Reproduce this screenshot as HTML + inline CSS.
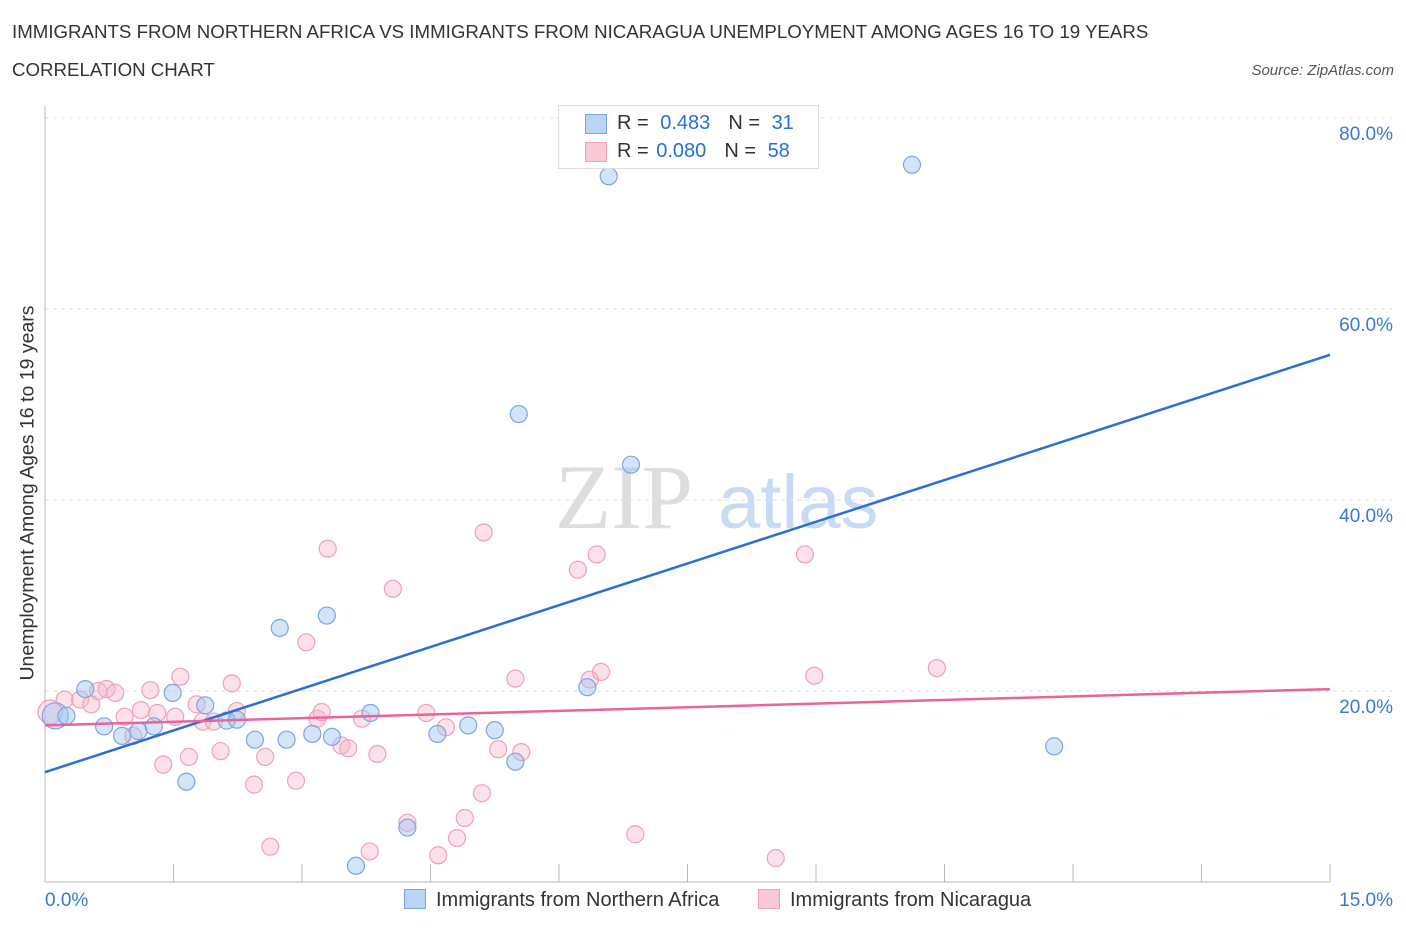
<!DOCTYPE html>
<html><head><meta charset="utf-8"><style>
body{margin:0;background:#fff;font-family:"Liberation Sans",sans-serif;}
#wrap{position:relative;width:1406px;height:930px;overflow:hidden;}
.t{position:absolute;white-space:nowrap;}
</style></head><body>
<div id="wrap">
<div class="t" style="left:12px;top:21px;font-size:18.7px;color:#333;">IMMIGRANTS FROM NORTHERN AFRICA VS IMMIGRANTS FROM NICARAGUA UNEMPLOYMENT AMONG AGES 16 TO 19 YEARS</div>
<div class="t" style="left:12px;top:59px;font-size:18.7px;color:#333;">CORRELATION CHART</div>
<div class="t" style="right:12px;top:62px;font-size:15px;color:#555;font-style:italic;">Source: ZipAtlas.com</div>
<svg id="svg" width="1406" height="930" style="position:absolute;left:0;top:0"></svg>
</div>
<script>
const yTicks=[20,40,60,80];
const yTickLabels=["20.0%","40.0%","60.0%","80.0%"];
const blueX=[0.12,0.25,0.47,0.69,0.90,1.09,1.27,1.49,1.65,1.87,2.12,2.24,2.45,2.74,2.82,3.12,3.29,3.35,3.63,3.80,4.23,4.58,4.94,5.25,5.49,5.53,6.33,6.58,6.84,10.12,11.78];
const blueY=[17.4,17.4,20.2,16.3,15.3,15.8,16.3,19.8,10.5,18.5,16.9,17.0,14.9,26.6,14.9,15.5,27.9,15.2,1.7,17.7,5.7,15.5,16.4,15.9,12.6,49.0,20.4,73.9,43.7,75.1,14.2];
const pinkX=[0.06,0.23,0.41,0.54,0.62,0.72,0.82,0.93,1.03,1.12,1.23,1.31,1.38,1.52,1.58,1.68,1.77,1.84,1.97,2.05,2.18,2.24,2.44,2.57,2.63,2.93,3.05,3.18,3.23,3.30,3.46,3.54,3.70,3.79,3.88,4.06,4.23,4.45,4.59,4.68,4.81,4.90,5.10,5.12,5.29,5.49,5.56,6.22,6.36,6.44,6.49,6.89,8.53,8.87,8.98,10.41];
const pinkY=[17.8,19.1,19.1,18.6,20.0,20.2,19.8,17.3,15.3,18.0,20.1,17.7,12.3,17.3,21.5,13.1,18.6,16.8,16.8,13.7,20.8,17.9,10.2,13.1,3.7,10.6,25.1,17.1,17.8,34.9,14.3,14.0,17.1,3.2,13.4,30.7,6.2,17.7,2.8,16.2,4.6,6.7,9.3,36.6,13.9,21.3,13.6,32.7,21.2,34.3,22.0,5.0,2.5,34.3,21.6,22.4];
const blueTrend=[11.5,55.2];
const pinkTrend=[16.4,20.2];
const X=v=>45+v*85.67, Y=v=>882-v*9.55;
const svg=document.getElementById('svg');
const NS='http://www.w3.org/2000/svg';
function mk(tag,attrs,name){const e=document.createElementNS(NS,tag);for(const k in attrs)e.setAttribute(k,attrs[k]);


svg.appendChild(e);return e;}
yTicks.forEach((v,i)=>{
 mk('line',{x1:45,x2:1392,y1:Y(v),y2:Y(v),stroke:'#ddd','stroke-dasharray':'4,4'},'gridline');
 const t=mk('text',{x:1393,y:Y(v)+22,'text-anchor':'end','font-size':19,fill:'#3a78d8','font-family':'Liberation Sans'},'y-tick-label');t.textContent=yTickLabels[i];
});
mk('line',{x1:45,x2:45,y1:105,y2:882,stroke:'#bbb'},'y-axis');
mk('line',{x1:45,x2:1330,y1:882,y2:882,stroke:'#bbb'},'x-axis');
for(let i=1;i<=10;i++){const x=45+i*128.5;mk('line',{x1:x,x2:x,y1:864,y2:882,stroke:'#bbb'},'x-tick');}
const wm=mk('text',{x:555,y:528,'font-size':92,fill:'#ddd','font-family':'Liberation Serif'},'watermark-zip');wm.textContent='ZIP';
const wm2=mk('text',{x:718,y:528,'font-size':76,fill:'#c9dbf2','font-family':'Liberation Sans'},'watermark-atlas');wm2.textContent='atlas';
pinkX.forEach((v,i)=>mk('circle',{cx:X(v),cy:Y(pinkY[i]),r:i==0?12:8.5,fill:'rgba(248,180,200,0.4)',stroke:'#f0a0b8','stroke-width':1.2},'nicaragua-point'));
blueX.forEach((v,i)=>mk('circle',{cx:X(v),cy:Y(blueY[i]),r:i==0?13:8.5,fill:'rgba(160,196,240,0.45)',stroke:'#7aa7e0','stroke-width':1.2},'northern-africa-point'));
mk('line',{x1:X(0),x2:X(15),y1:Y(blueTrend[0]),y2:Y(blueTrend[1]),stroke:'#2a6fd6','stroke-width':2.5},'northern-africa-trendline');
mk('line',{x1:X(0),x2:X(15),y1:Y(pinkTrend[0]),y2:Y(pinkTrend[1]),stroke:'#e8649a','stroke-width':2.5},'nicaragua-trendline');
</script>
<div class="t" style="left:28px;top:493px;font-size:19.5px;color:#333;transform:translate(-50%,-50%) rotate(-90deg);">Unemployment Among Ages 16 to 19 years</div>
<div class="t" style="left:45px;top:890px;font-size:19px;color:#3a78d8;">0.0%</div>
<div class="t" style="right:13px;top:890px;font-size:19px;color:#3a78d8;">15.0%</div>
<div style="position:absolute;left:558px;top:105px;width:259px;height:62px;border:1px solid #ddd;background:#fff;font-size:20px;color:#333;">
 <div style="position:absolute;left:26px;top:8px;width:20px;height:18px;background:#bcd4f4;border:1px solid #7aa7e0;"></div>
 <div class="t" style="left:58px;top:6px;">R = <span style="color:#2a6fd6;margin-left:6px">0.483</span><span style="margin-left:18px">N = </span><span style="color:#2a6fd6;margin-left:6px">31</span></div>
 <div style="position:absolute;left:26px;top:36px;width:20px;height:18px;background:#f9c8d6;border:1px solid #f0a0b8;"></div>
 <div class="t" style="left:58px;top:34px;">R = <span style="color:#2a6fd6;margin-left:2px">0.080</span><span style="margin-left:18px">N = </span><span style="color:#2a6fd6;margin-left:6px">58</span></div>
</div>
<div style="position:absolute;left:404px;top:889px;font-size:20px;color:#333;">
 <span style="display:inline-block;width:20px;height:18px;background:#bcd4f4;border:1px solid #7aa7e0;vertical-align:-3px;margin-right:10px"></span>Immigrants from Northern Africa</div>
<div style="position:absolute;left:758px;top:889px;font-size:20px;color:#333;">
 <span style="display:inline-block;width:20px;height:18px;background:#f9c8d6;border:1px solid #f0a0b8;vertical-align:-3px;margin-right:10px"></span>Immigrants from Nicaragua</div>
</body></html>
